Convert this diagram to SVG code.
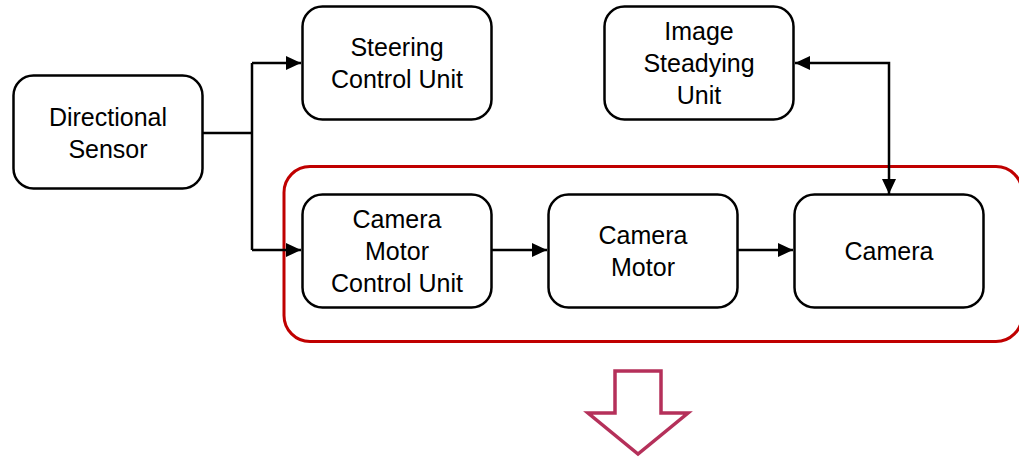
<svg xmlns="http://www.w3.org/2000/svg" width="1019" height="458" viewBox="0 0 1019 458">
<style>
.box{fill:#fff;stroke:#000;stroke-width:2.5}
.t{font-family:"Liberation Sans",Arial,sans-serif;font-size:25px;fill:#000;text-anchor:middle}
.c{fill:none;stroke:#000;stroke-width:2.5}
</style>
<defs>
<marker id="ah" markerUnits="userSpaceOnUse" markerWidth="16" markerHeight="16" viewBox="0 0 16 16" refX="15" refY="8" orient="auto-start-reverse">
<path d="M0,1 L15,8 L0,15 Z" fill="#000"/>
</marker>
</defs>
<rect x="0" y="0" width="1019" height="458" fill="#fff"/>
<g id="group">
<rect x="284" y="166.5" width="738" height="175" rx="26" fill="none" stroke="#c00000" stroke-width="3"/>
</g>
<g id="connectors">
<polyline class="c" points="203,133 252,133"/>
<polyline class="c" points="252,63 252,250"/>
<polyline class="c" points="252,63 301,63" marker-end="url(#ah)"/>
<polyline class="c" points="252,250 301,250" marker-end="url(#ah)"/>
<polyline class="c" points="491,250 547,250" marker-end="url(#ah)"/>
<polyline class="c" points="737,250 793,250" marker-end="url(#ah)"/>
<polyline class="c" points="795,63 889,63 889,194" marker-start="url(#ah)" marker-end="url(#ah)"/>
</g>
<g id="directional-sensor">
<rect class="box" x="13.5" y="75.5" width="189" height="113" rx="20"/>
<text class="t" x="108" y="126">Directional</text>
<text class="t" x="108" y="158">Sensor</text>
</g>
<g id="steering-control-unit">
<rect class="box" x="302.5" y="6.5" width="189" height="113" rx="20"/>
<text class="t" x="397" y="56">Steering</text>
<text class="t" x="397" y="88">Control Unit</text>
</g>
<g id="image-steadying-unit">
<rect class="box" x="604.5" y="6.5" width="189" height="113" rx="20"/>
<text class="t" x="699" y="40">Image</text>
<text class="t" x="699" y="72">Steadying</text>
<text class="t" x="699" y="104">Unit</text>
</g>
<g id="camera-motor-control-unit">
<rect class="box" x="302.5" y="194.5" width="189" height="113" rx="20"/>
<text class="t" x="397" y="228">Camera</text>
<text class="t" x="397" y="260">Motor</text>
<text class="t" x="397" y="292">Control Unit</text>
</g>
<g id="camera-motor">
<rect class="box" x="548.5" y="194.5" width="189" height="113" rx="20"/>
<text class="t" x="643" y="244">Camera</text>
<text class="t" x="643" y="276">Motor</text>
</g>
<g id="camera">
<rect class="box" x="794.5" y="194.5" width="189" height="113" rx="20"/>
<text class="t" x="889" y="260">Camera</text>
</g>
<g id="down-arrow">
<polygon points="615,371 661,371 661,413 688,413 638,454 588,413 615,413" fill="#fff" stroke="#b5305a" stroke-width="3.5"/>
</g>
</svg>
